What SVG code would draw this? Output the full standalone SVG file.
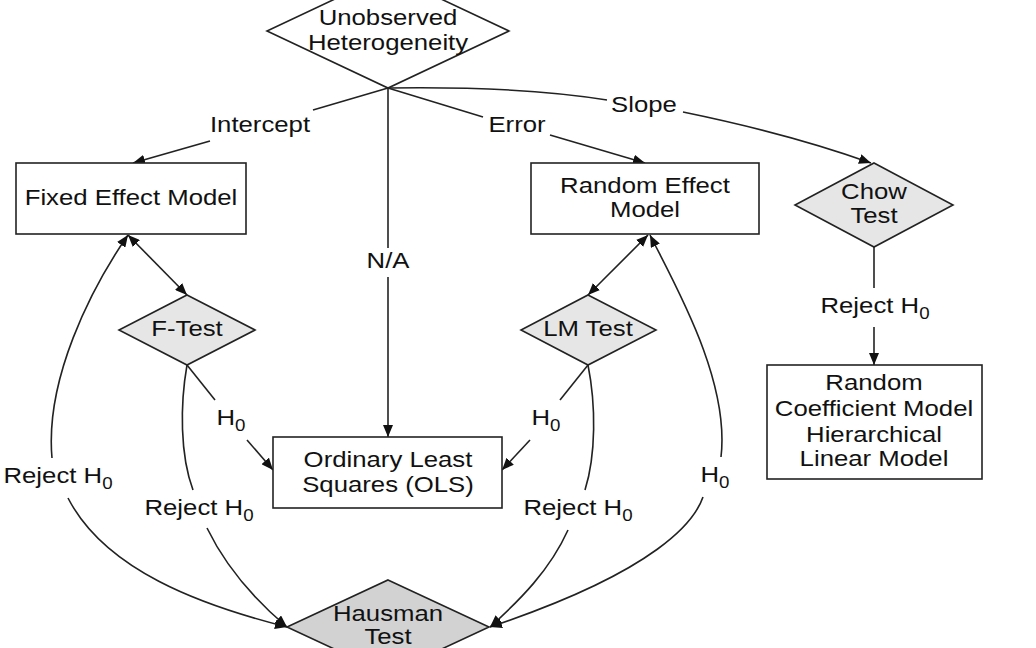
<svg xmlns="http://www.w3.org/2000/svg" width="1036" height="648" viewBox="0 0 1036 648">
<style>
.t{font-family:"Liberation Sans",Arial,sans-serif;font-size:22px;text-anchor:middle;fill:#111}
.s{font-size:16px}
.box{fill:#fff;stroke:#222;stroke-width:1.6}
.dl{fill:#e6e6e6;stroke:#222;stroke-width:1.6}
.dh{fill:#d2d2d2;stroke:#222;stroke-width:1.6}
.dw{fill:#fff;stroke:#222;stroke-width:1.6}
.c path{fill:none;stroke:#222;stroke-width:1.6}
.a{marker-end:url(#ah)}
.b{marker-start:url(#ah);marker-end:url(#ah)}
.st{marker-start:url(#ah)}
</style>
<defs>
<marker id="ah" markerUnits="userSpaceOnUse" markerWidth="13" markerHeight="10" refX="12" refY="5" orient="auto-start-reverse">
<path d="M0,0 L12,5 L0,10 z" fill="#111"/>
</marker>
</defs>
<rect width="1036" height="648" fill="#fff"/>

<g class="c" id="connectors">
<path d="M388,88 L313,110"/>
<path class="a" d="M210,141 L133,163"/>
<path d="M388,88 L388,248"/>
<path class="a" d="M388,277 L388,437"/>
<path d="M388,88 L483,117"/>
<path class="a" d="M550,135 L645,163"/>
<path d="M388,88 Q520,86 607,100"/>
<path class="a" d="M683,112 Q790,134 871,163"/>
<path d="M874,247 L874,288"/>
<path class="a" d="M874,327 L874,365"/>
<path class="b" d="M128,235 L187,295"/>
<path class="b" d="M648,235 L588,295"/>
<path d="M187,365 L215,400"/>
<path class="a" d="M247,440 L273,470"/>
<path d="M588,365 L560,400"/>
<path class="a" d="M530,440 L502,470"/>
<path class="st" d="M128,235 C90,290 45,380 52,458"/>
<path class="a" d="M68,498 C105,570 200,605 287,627"/>
<path d="M187,365 C180,405 180,455 193,490"/>
<path class="a" d="M207,528 C225,565 255,600 287,627"/>
<path d="M588,365 C596,405 596,455 585,490"/>
<path class="a" d="M568,530 C550,570 520,600 490,627"/>
<path class="st" d="M650,235 C675,285 730,380 721,457"/>
<path class="a" d="M703,497 C695,520 660,570 490,627"/>
</g>

<g id="labels">
<text class="t" transform="translate(260,132) scale(1.17 1)">Intercept</text>
<text class="t" transform="translate(517,132) scale(1.17 1)">Error</text>
<text class="t" transform="translate(644,112) scale(1.17 1)">Slope</text>
<text class="t" transform="translate(388,268) scale(1.17 1)">N/A</text>
<text class="t" transform="translate(875,313) scale(1.17 1)">Reject H<tspan class="s" dy="6">0</tspan></text>
<text class="t" transform="translate(231,425) scale(1.17 1)">H<tspan class="s" dy="6">0</tspan></text>
<text class="t" transform="translate(546,425) scale(1.17 1)">H<tspan class="s" dy="6">0</tspan></text>
<text class="t" transform="translate(715,482) scale(1.17 1)">H<tspan class="s" dy="6">0</tspan></text>
<text class="t" transform="translate(58,483) scale(1.17 1)">Reject H<tspan class="s" dy="6">0</tspan></text>
<text class="t" transform="translate(199,515) scale(1.17 1)">Reject H<tspan class="s" dy="6">0</tspan></text>
<text class="t" transform="translate(578,515) scale(1.17 1)">Reject H<tspan class="s" dy="6">0</tspan></text>
</g>

<g id="unobserved">
<polygon class="dw" points="388,-26 509,31 388,88 267,31"/>
<text class="t" transform="translate(388,25) scale(1.17 1)">Unobserved</text>
<text class="t" transform="translate(388,50) scale(1.17 1)">Heterogeneity</text>
</g>

<g id="fixed">
<rect class="box" x="16" y="163" width="230" height="71"/>
<text class="t" transform="translate(131,205) scale(1.17 1)">Fixed Effect Model</text>
</g>

<g id="random">
<rect class="box" x="531" y="163" width="228" height="71"/>
<text class="t" transform="translate(645,193) scale(1.17 1)">Random Effect</text>
<text class="t" transform="translate(645,217) scale(1.17 1)">Model</text>
</g>

<g id="chow">
<polygon class="dl" points="874,163 953,205 874,247 795,205"/>
<text class="t" transform="translate(874,199) scale(1.17 1)">Chow</text>
<text class="t" transform="translate(874,223) scale(1.17 1)">Test</text>
</g>

<g id="rcm">
<rect class="box" x="767" y="365" width="215" height="114"/>
<text class="t" transform="translate(874,390) scale(1.17 1)">Random</text>
<text class="t" transform="translate(874,416) scale(1.17 1)">Coefficient Model</text>
<text class="t" transform="translate(874,442) scale(1.17 1)">Hierarchical</text>
<text class="t" transform="translate(874,466) scale(1.17 1)">Linear Model</text>
</g>

<g id="ftest">
<polygon class="dl" points="187,295 255,330 187,365 119,330"/>
<text class="t" transform="translate(187,336) scale(1.17 1)">F-Test</text>
</g>

<g id="lmtest">
<polygon class="dl" points="588,295 656,330 588,365 521,330"/>
<text class="t" transform="translate(588,336) scale(1.17 1)">LM Test</text>
</g>

<g id="ols">
<rect class="box" x="273" y="437" width="229" height="71"/>
<text class="t" transform="translate(388,467) scale(1.17 1)">Ordinary Least</text>
<text class="t" transform="translate(388,492) scale(1.17 1)">Squares (OLS)</text>
</g>

<g id="hausman">
<polygon class="dh" points="388,580 489,627 388,674 287,627"/>
<text class="t" transform="translate(388,621) scale(1.17 1)">Hausman</text>
<text class="t" transform="translate(388,644) scale(1.17 1)">Test</text>
</g>
</svg>
